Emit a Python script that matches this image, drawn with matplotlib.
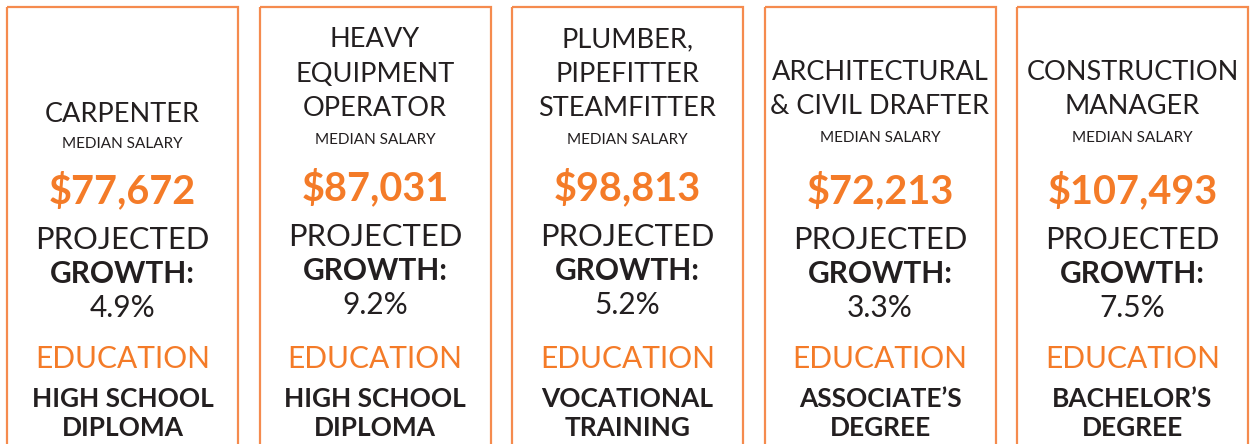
import matplotlib.pyplot as plt
from matplotlib.patches import Rectangle

# card contents
titles = [
    ["CARPENTER"],
    ["HEAVY", "EQUIPMENT", "OPERATOR"],
    ["PLUMBER,", "PIPEFITTER", "STEAMFITTER"],
    ["ARCHITECTURAL", "& CIVIL DRAFTER"],
    ["CONSTRUCTION", "MANAGER"],
]
salaries = [77672, 87031, 98813, 72213, 107493]
growth = [4.9, 9.2, 5.2, 3.3, 7.5]
education = [
    ["HIGH SCHOOL", "DIPLOMA"],
    ["HIGH SCHOOL", "DIPLOMA"],
    ["VOCATIONAL", "TRAINING"],
    ["ASSOCIATE\u2019S", "DEGREE"],
    ["BACHELOR\u2019S", "DEGREE"],
]

ORANGE = '#F47B28'
BORDER = '#F58B4E'
DARK = '#231F20'
FONT = 'Lato'

# vertical layout (pixels) depending on the number of title lines
layout = {
    1: dict(title=[112], median=141, salary=188, proj=237, grow=271, pct=305),
    2: dict(title=[70, 104], median=135, salary=188, proj=237, grow=271, pct=305),
    3: dict(title=[37, 72, 106], median=137, salary=185, proj=234, grow=268, pct=302),
}
dy = 2.5  # nudge, matplotlib centres a bit high

W, H = 1251, 444
fig = plt.figure(figsize=(W / 100, H / 100), dpi=100)
ax = fig.add_axes([0, 0, 1, 1])
ax.set_xlim(0, W)
ax.set_ylim(H, 0)
ax.axis('off')


def txt(x, y, s, size, color=DARK, weight='normal'):
    ax.text(x, y + dy, s, ha='center', va='center', fontsize=size, color=color,
            family=FONT, fontweight=weight)


card_w = 231
step = 252.5
for i in range(len(titles)):
    x0 = 7 + i * step
    ax.add_patch(Rectangle((x0, 7.5), card_w, 500, fill=False, edgecolor=BORDER, linewidth=1.6))
    cx = x0 + card_w / 2
    lay = layout[len(titles[i])]
    for y, line in zip(lay['title'], titles[i]):
        txt(cx, y, line, 19.5)
    txt(cx, lay['median'], 'MEDIAN SALARY', 11)
    txt(cx, lay['salary'], f'${salaries[i]:,}', 28.5, ORANGE, 'bold')
    txt(cx, lay['proj'], 'PROJECTED', 22.2)
    txt(cx, lay['grow'], 'GROWTH:', 21.5, weight='bold')
    txt(cx, lay['pct'], f'{growth[i]}%', 21.5)
    txt(cx, 356, 'EDUCATION', 21.5, ORANGE)
    for y, line in zip([396, 425], education[i]):
        txt(cx, y, line, 18.9, weight='bold')

fig.savefig('out.png', dpi=100)
